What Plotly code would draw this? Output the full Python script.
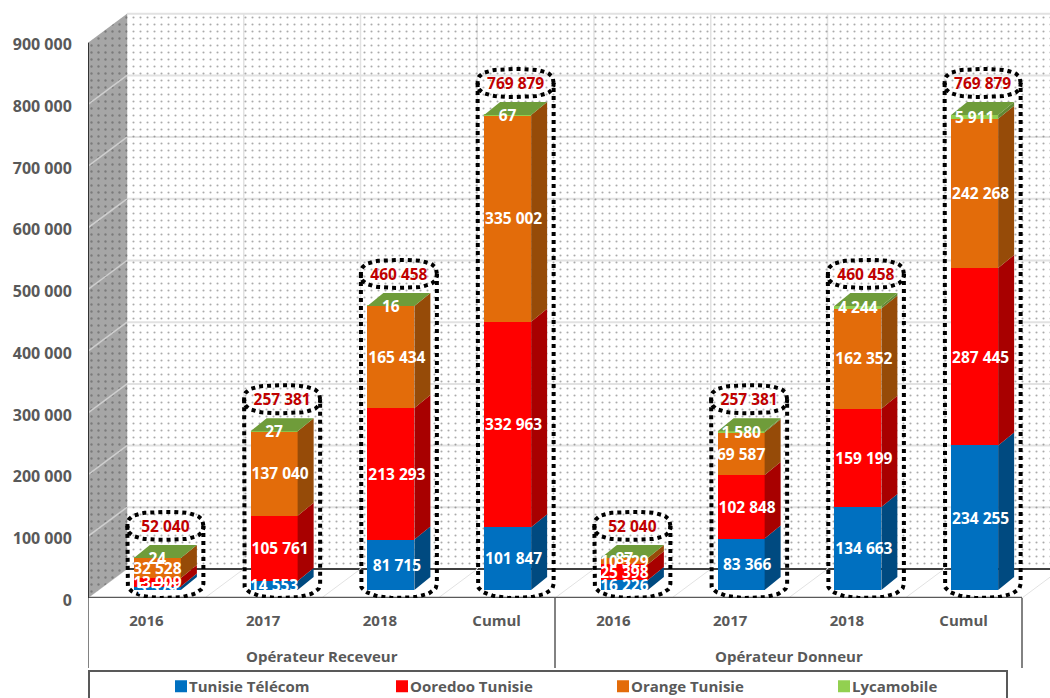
import numpy as np
import plotly.graph_objects as go

years = ["2016", "2017", "2018", "Cumul", "2016", "2017", "2018", "Cumul"]
groups = ["Opérateur Receveur", "Opérateur Donneur"]
tunisie_telecom = [5579, 14553, 81715, 101847, 16226, 83366, 134663, 234255]
ooredoo = [13909, 105761, 213293, 332963, 25398, 102848, 159199, 287445]
orange = [32528, 137040, 165434, 335002, 10329, 69587, 162352, 242268]
lycamobile = [24, 27, 16, 67, 87, 1580, 4244, 5911]
totals = [52040, 257381, 460458, 769879, 52040, 257381, 460458, 769879]
y_ticks = [0, 100000, 200000, 300000, 400000, 500000, 600000, 700000, 800000, 900000]

SCALE = 0.617e-3          # pixels per unit on the value axis
AXIS_PX = 598             # pixel row of value 0 at the front of the floor
LEFT = 88
STEP = 116.75
WALL_DX, WALL_DY = 39, 29 / SCALE
BAR_W = 47
BAR_DX, BAR_DY = 16, 13 / SCALE
BAR_FLOOR = 8 / SCALE
TEXT_NUDGE = -2 / SCALE
GREY = "#595959"
GRID = "#E2E2E2"
FONT = "Open Sans"


def fmt(v):
    return f"{v:,}".replace(",", " ")


def paper_y(px):
    return (AXIS_PX - px) / AXIS_PX


n = len(years)
slots = [LEFT + STEP * i for i in range(n + 1)]
centers = [s + STEP / 2 + 11 for s in slots[:-1]]
series = [
    ("Tunisie Télécom", tunisie_telecom, "#0070C0", "#004A80"),
    ("Ooredoo Tunisie", ooredoo, "#FF0000", "#A80000"),
    ("Orange Tunisie", orange, "#E36C0A", "#964B08"),
    ("Lycamobile", lycamobile, "#92D050", "#618834"),
]

fig = go.Figure()

# back wall dots
wall_lo, wall_hi = WALL_DY, y_ticks[-1] + WALL_DY
wall_left = LEFT + WALL_DX
fig.add_trace(go.Bar(
    x=[(wall_left + 1100) / 2], y=[wall_hi - wall_lo], base=[wall_lo], width=[1100 - wall_left],
    marker=dict(color="rgba(0,0,0,0)", line_width=0,
                pattern=dict(shape=".", size=7, solidity=0.07, fgcolor="#555555",
                             bgcolor="rgba(0,0,0,0)", fillmode="overlay")),
    showlegend=False, hoverinfo="skip"))

# stacked front faces
bottom = np.full(n, BAR_FLOOR, dtype=float)
for name, vals, col, dark in series:
    fig.add_trace(go.Bar(x=centers, y=vals, base=bottom.tolist(), width=BAR_W, name=name,
                         marker=dict(color=col, line_width=0), hoverinfo="skip"))
    bottom = bottom + np.array(vals)

# left wall
fig.add_trace(go.Scatter(
    x=[LEFT, wall_left, wall_left, LEFT, LEFT],
    y=[0, WALL_DY, wall_hi, y_ticks[-1], 0],
    mode="none", fill="toself", fillcolor="#A6A6A6",
    fillpattern=dict(shape=".", size=7, solidity=0.09, fgcolor="#4D4D4D", bgcolor="#A6A6A6"),
    showlegend=False, hoverinfo="skip"))
gx, gy = [], []
for t in y_ticks[1:-1]:
    gx += [LEFT, wall_left, None]
    gy += [t, t + WALL_DY, None]
fig.add_trace(go.Scatter(x=gx, y=gy, mode="lines", line=dict(color="#CFCFCF", width=1.5),
                         showlegend=False, hoverinfo="skip"))
fig.add_trace(go.Scatter(x=[LEFT, LEFT], y=[0, y_ticks[-1]], mode="lines",
                         line=dict(color="#333333", width=2), showlegend=False, hoverinfo="skip"))

# side faces
bottom = np.full(n, BAR_FLOOR, dtype=float)
for name, vals, col, dark in series:
    sx, sy = [], []
    for c, b, v in zip(centers, bottom, vals):
        r = c + BAR_W / 2
        sx += [r, r + BAR_DX, r + BAR_DX, r, r, None]
        sy += [b, b + BAR_DY, b + v + BAR_DY, b + v, b, None]
    fig.add_trace(go.Scatter(x=sx, y=sy, mode="none", fill="toself", fillcolor=dark,
                             showlegend=False, hoverinfo="skip"))
    bottom = bottom + np.array(vals)

# top faces
tx, ty = [], []
for c, t in zip(centers, bottom):
    l, r = c - BAR_W / 2, c + BAR_W / 2
    tx += [l, r, r + BAR_DX, l + BAR_DX, l, None]
    ty += [t, t, t + BAR_DY, t + BAR_DY, t, None]
fig.add_trace(go.Scatter(x=tx, y=ty, mode="none", fill="toself", fillcolor="#6F9C3A",
                         showlegend=False, hoverinfo="skip"))

# dotted cylinders round each stack
HALF_W, HALF_H = 38, 14 / SCALE
LIFT = 32 / SCALE
FOOT = 14 / SCALE
FOOT_C = 14 / SCALE
theta = np.linspace(0, 2 * np.pi, 73)
cx, cy = [], []
for c, top in zip(centers, bottom):
    mid_x = c + 8
    mid_y = top + LIFT
    ex = mid_x + HALF_W * np.sign(np.cos(theta)) * np.abs(np.cos(theta)) ** 0.7
    ey = mid_y + HALF_H * np.sign(np.sin(theta)) * np.abs(np.sin(theta)) ** 0.7
    cx += ex.tolist() + [None]
    cy += ey.tolist() + [None]
    lower = np.linspace(np.pi, 2 * np.pi, 37)
    bx = mid_x + HALF_W * np.sign(np.cos(lower)) * np.abs(np.cos(lower)) ** 0.9
    by = FOOT_C - FOOT * np.abs(np.sin(lower)) ** 0.9
    cx += [mid_x - HALF_W] + bx.tolist() + [mid_x + HALF_W, None]
    cy += [mid_y] + by.tolist() + [mid_y, None]
fig.add_trace(go.Scatter(x=cx, y=cy, mode="lines", cliponaxis=False,
                         line=dict(color="#000000", width=4, dash="4px,4px"),
                         showlegend=False, hoverinfo="skip"))

# segment labels: labels wider than a tall front face lean to the right
WIDE_VALUE = 75000
LABEL_SHIFT = 6
bottom = np.full(n, BAR_FLOOR, dtype=float)
for name, vals, col, dark in series:
    arr = np.array(vals)
    fig.add_trace(go.Scatter(x=[c + (LABEL_SHIFT if v >= WIDE_VALUE else 0) for c, v in zip(centers, vals)],
                             y=(bottom + arr / 2 + TEXT_NUDGE).tolist(), mode="text", cliponaxis=False,
                             text=[fmt(v) for v in vals],
                             textfont=dict(family=FONT, size=15.5, color="#FFFFFF", weight=700),
                             showlegend=False, hoverinfo="skip"))
    bottom = bottom + arr

# totals
fig.add_trace(go.Scatter(x=[c + 8 for c in centers], y=(bottom + LIFT + TEXT_NUDGE).tolist(), mode="text",
                         cliponaxis=False, text=[fmt(v) for v in totals],
                         textfont=dict(family=FONT, size=15.5, color="#C00000", weight=700),
                         showlegend=False, hoverinfo="skip"))

shapes = []
for t in y_ticks[1:]:
    shapes.append(dict(type="line", xref="x", yref="y", x0=wall_left, x1=1100, y0=t + WALL_DY, y1=t + WALL_DY,
                       layer="below", line=dict(color=GRID, width=2)))
shapes.append(dict(type="line", xref="x", yref="y", x0=wall_left, x1=1100, y0=WALL_DY, y1=WALL_DY,
                   layer="below", line=dict(color="#000000", width=1.5)))
for s in slots:
    shapes.append(dict(type="line", xref="x", yref="y", x0=s + WALL_DX, x1=s + WALL_DX, y0=WALL_DY, y1=wall_hi,
                       layer="below", line=dict(color=GRID, width=1.5)))
    shapes.append(dict(type="line", xref="x", yref="y", x0=s, x1=s + WALL_DX, y0=0, y1=WALL_DY,
                       layer="below", line=dict(color=GRID, width=1)))
shapes.append(dict(type="line", xref="x", yref="y", x0=LEFT, x1=slots[-1], y0=0, y1=0,
                   layer="below", line=dict(color=GREY, width=2.5)))
for s in (slots[0], slots[4], slots[8]):
    shapes.append(dict(type="line", xref="x", yref="paper", x0=s, x1=s, y0=0, y1=paper_y(668),
                       line=dict(color=GREY, width=1.5)))
shapes.append(dict(type="rect", xref="x", yref="paper", x0=LEFT + 1, x1=1007, y0=paper_y(671), y1=paper_y(705),
                   line=dict(color=GREY, width=2)))

annotations = [
    dict(text=groups[0], x=(slots[0] + slots[4]) / 2, y=paper_y(656), xref="x", yref="paper", yanchor="middle",
         showarrow=False, font=dict(family=FONT, size=15, color=GREY, weight=700)),
    dict(text=groups[1], x=(slots[4] + slots[8]) / 2, y=paper_y(656), xref="x", yref="paper", yanchor="middle",
         showarrow=False, font=dict(family=FONT, size=15, color=GREY, weight=700)),
]

fig.update_layout(
    width=1050, height=698, margin=dict(l=LEFT, r=0, t=0, b=698 - AXIS_PX, autoexpand=False),
    paper_bgcolor="#FFFFFF", plot_bgcolor="#FFFFFF", barmode="overlay", bargap=0,
    shapes=shapes, annotations=annotations,
    xaxis=dict(range=[LEFT, 1050], showgrid=False, zeroline=False, showline=False,
               tickmode="array", tickvals=[s + STEP / 2 for s in slots[:-1]], ticktext=years,
               ticks="outside", ticklen=9, tickcolor="rgba(0,0,0,0)", tickangle=0,
               tickfont=dict(family=FONT, size=15, color=GREY, weight=700)),
    yaxis=dict(range=[0, AXIS_PX / SCALE], showgrid=False, zeroline=False, showline=False,
               tickmode="array", tickvals=y_ticks, ticktext=[fmt(t) for t in y_ticks],
               ticks="outside", ticklen=12, tickcolor="rgba(0,0,0,0)", ticklabelshift=2,
               tickfont=dict(family=FONT, size=16, color=GREY, weight=700)),
    legend=dict(orientation="h", x=(149 - LEFT) / (1050 - LEFT), xanchor="left", y=paper_y(670), yanchor="top",
                entrywidth=176, entrywidthmode="pixels", traceorder="normal",
                bgcolor="rgba(0,0,0,0)", borderwidth=0,
                font=dict(family=FONT, size=15, color=GREY, weight=700)),
)

post = """
document.body.style.margin='0';
document.querySelectorAll('.legend .legendsymbols').forEach(function(g){g.setAttribute('transform','translate(12,0)');});
"""
fig.write_html("out.html", post_script=post, config={"displayModeBar": False})
